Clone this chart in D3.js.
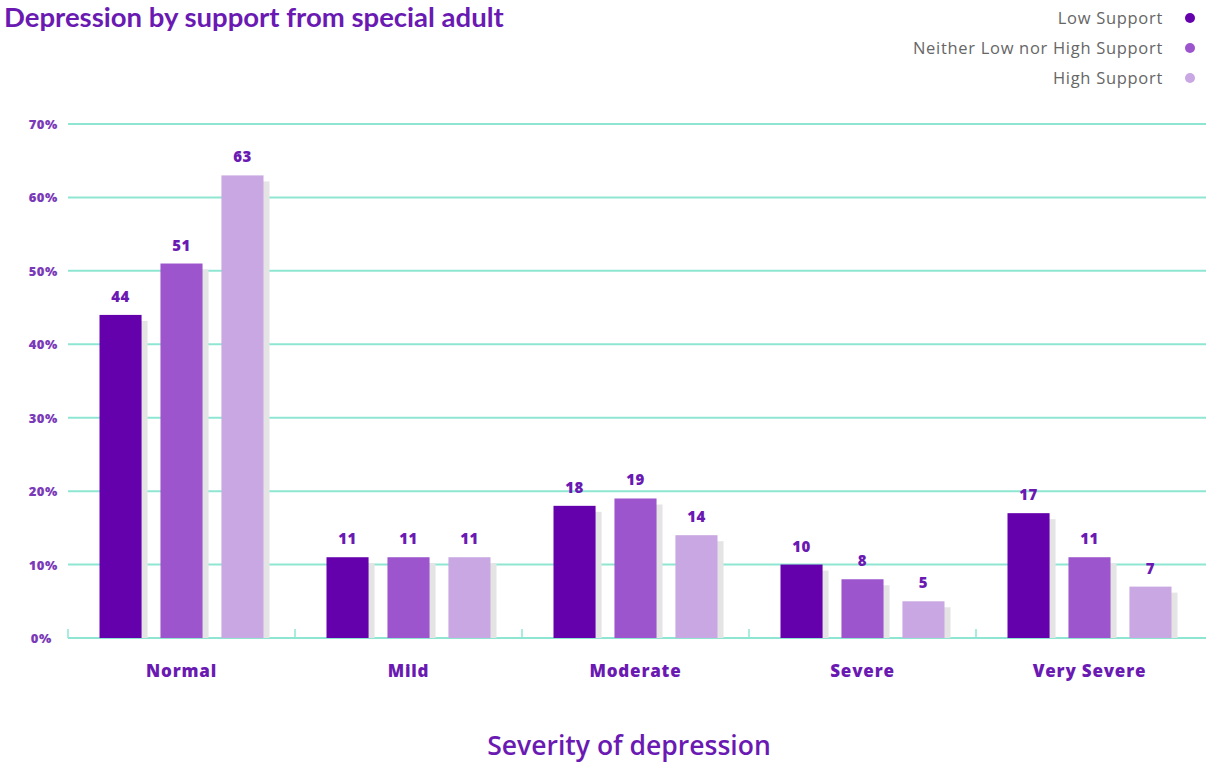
<!DOCTYPE html>
<html><head><meta charset="utf-8">
<script src="https://cdn.jsdelivr.net/npm/d3@7"></script>
<style>
html,body{margin:0;padding:0;background:#fff;}
svg{display:block;font-family:"Open Sans",Lato,sans-serif;}
</style></head>
<body>
<svg id="chart" width="1206" height="762"></svg>
<script>
const categories = ["Normal","Mild","Moderate","Severe","Very Severe"];
const seriesNames = ["Low Support","Neither Low nor High Support","High Support"];
const lowSupport = [44,11,18,10,17];
const neitherSupport = [51,11,19,8,11];
const highSupport = [63,11,14,5,7];
const yTicks = [0,10,20,30,40,50,60,70];
const colors = ["#6500ad","#9c55cc","#c9a7e2"];
const seriesValues = [lowSupport, neitherSupport, highSupport];

const svg = d3.select("#chart");
const plotLeft = 68, plotRight = 1203, plotTop = 124, plotBottom = 638;
const groupWidth = 164;

const x = d3.scaleBand().domain(categories).range([plotLeft, plotRight]).paddingInner(0).paddingOuter(0);
const x1 = d3.scaleBand().domain(seriesNames).range([0, groupWidth]).paddingInner(0.31).paddingOuter(0);
const y = d3.scaleLinear().domain([0,70]).range([plotBottom, plotTop]);

// title
svg.append("text").attr("x",4).attr("y",27)
  .attr("font-family","Lato, sans-serif")
  .attr("font-size",27.5).attr("font-weight",700).attr("fill","#6a1ab2")
  .text("Depression by support from special adult");

// gridlines
svg.append("g").selectAll("line").data(yTicks.filter(d=>d>0)).join("line")
  .attr("x1",plotLeft).attr("x2",1206).attr("y1",d=>y(d)).attr("y2",d=>y(d))
  .attr("stroke","#8ee6d2").attr("stroke-width",2);

// y labels
svg.append("g").selectAll("text").data(yTicks).join("text")
  .attr("x",d=>d===0?52:58).attr("y",d=>y(d)+5).attr("text-anchor","end")
  .attr("font-size",13).attr("font-weight",800).attr("letter-spacing",0.6).attr("fill","#7a3ab8")
  .text(d=>d+"%");

// x axis
const xAxis = d3.axisBottom(x).tickSize(0).tickFormat("");
const gx = svg.append("g").attr("transform",`translate(0,${plotBottom})`).call(xAxis);
gx.select(".domain").attr("stroke","#8ee6d2").attr("stroke-width",2).attr("d",`M${plotLeft},0H1206`);
svg.append("g").selectAll("line").data(categories).join("line")
  .attr("x1",d=>x(d)).attr("x2",d=>x(d)).attr("y1",plotBottom).attr("y2",plotBottom-9)
  .attr("stroke","#8ee6d2").attr("stroke-width",1.5);

// bars
const groupOffset = (x.bandwidth()-groupWidth)/2;
categories.forEach((c,ci)=>{
  const g = svg.append("g").attr("transform",`translate(${x(c)+groupOffset},0)`);
  seriesNames.forEach((s,si)=>{
    const v = seriesValues[si][ci];
    g.append("rect").attr("x",x1(s)+6).attr("y",y(v)+6)
      .attr("width",x1.bandwidth()).attr("height",plotBottom-y(v)-6)
      .attr("fill","#e4e4e4");
    g.append("rect").attr("x",x1(s)).attr("y",y(v))
      .attr("width",x1.bandwidth()).attr("height",plotBottom-y(v))
      .attr("fill",colors[si]);
    g.append("text").attr("x",x1(s)+x1.bandwidth()/2).attr("y",y(v)-13)
      .attr("text-anchor","middle").attr("font-size",15).attr("font-weight",800)
      .attr("letter-spacing",0.5).attr("fill","#6a1ab2").text(v);
  });
});

// category labels
svg.append("g").selectAll("text").data(categories).join("text")
  .attr("x",d=>x(d)+x.bandwidth()/2).attr("y",677).attr("text-anchor","middle")
  .attr("font-size",17).attr("font-weight",800).attr("letter-spacing",0.8)
  .attr("fill","#6a1ab2").text(d=>d);

// axis title
svg.append("text").attr("x",629).attr("y",755).attr("text-anchor","middle")
  .attr("font-size",26.5).attr("font-weight",600).attr("fill","#6a1ab2")
  .text("Severity of depression");

// legend
const leg = svg.append("g");
seriesNames.forEach((s,i)=>{
  const yy = 18 + i*30;
  leg.append("text").attr("x",1163).attr("y",yy+6).attr("text-anchor","end")
    .attr("font-size",16.5).attr("letter-spacing",0.7).attr("fill","#666").text(s);
  leg.append("circle").attr("cx",1190).attr("cy",yy).attr("r",5).attr("fill",colors[i]);
});
</script>
</body></html>
